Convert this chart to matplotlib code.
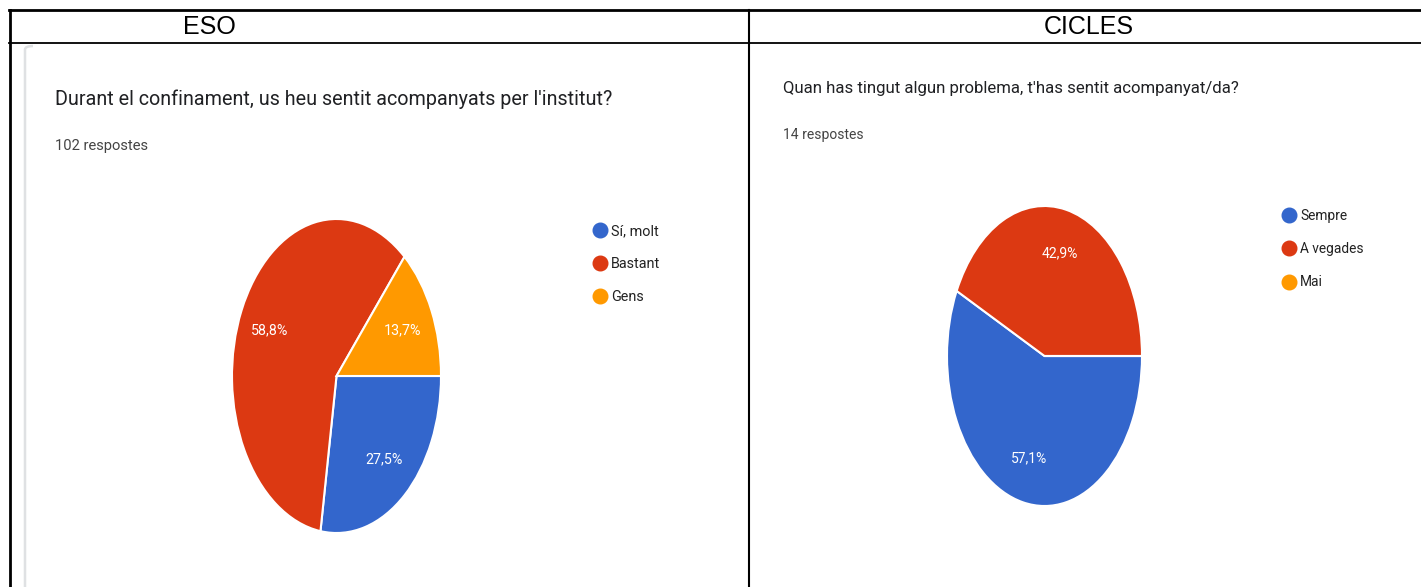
import matplotlib.pyplot as plt
from matplotlib.lines import Line2D
from matplotlib.patches import FancyBboxPatch, Rectangle

W, H = 1421, 587

# ESO data (counts out of 102 answers)
eso_labels = ['Sí, molt', 'Bastant', 'Gens']
eso_counts = [28, 60, 14]
eso_title = "Durant el confinament, us heu sentit acompanyats per l'institut?"
eso_sub = '102 respostes'

# CICLES data (counts out of 14 answers)
cic_labels = ['Sempre', 'A vegades', 'Mai']
cic_counts = [8, 6, 0]
cic_title = "Quan has tingut algun problema, t'has sentit acompanyat/da?"
cic_sub = '14 respostes'

colors = ['#3366cc', '#dc3912', '#ff9900']
gfont = ['Roboto', 'DejaVu Sans']


def fx(px):
    return px / W


def fy(py):
    return 1 - py / H


def pct(p):
    if p <= 0:
        return ''
    return f'{p:.1f}%'.replace('.', ',')


def pie_panel(fig, box, counts, labels, title, sub, tpos, spos, lpos, sizes):
    ts, ss, ls, ps = sizes
    x0, y0, x1, y1 = box
    ax = fig.add_axes([fx(x0), fy(y1), (x1 - x0) / W, (y1 - y0) / H])
    ax.pie(counts, colors=colors, startangle=0, counterclock=False,
           autopct=pct, pctdistance=0.7,
           wedgeprops=dict(edgecolor='white', linewidth=1.5),
           textprops=dict(color='white', fontsize=ps, family=gfont))
    ax.set_aspect('auto')
    ax.set_xlim(-1, 1)
    ax.set_ylim(-1, 1)
    ax.axis('off')

    fig.text(fx(tpos[0]), fy(tpos[1]), title, fontsize=ts, family=gfont,
             color='#202124', va='center')
    fig.text(fx(spos[0]), fy(spos[1]), sub, fontsize=ss, family=gfont,
             color='#444444', va='center')

    handles = [Line2D([], [], linestyle='none', marker='o', markersize=10.5,
                      markerfacecolor=c, markeredgecolor=c) for c in colors]
    fig.legend(handles, labels, loc='upper left',
               bbox_to_anchor=(fx(lpos[0]), fy(lpos[1])),
               frameon=False, borderpad=0, borderaxespad=0,
               handlelength=0.9, handletextpad=0.35,
               labelspacing=22.0 / (ls * 100 / 72) - 0.2,
               prop=dict(size=ls, family=gfont), labelcolor='#222222')


fig = plt.figure(figsize=(W / 100, H / 100), dpi=100)
fig.patch.set_facecolor('white')

# table grid
lk = dict(color='black', transform=fig.transFigure)
fig.add_artist(Line2D([fx(9), fx(1421)], [fy(10), fy(10)], lw=2, **lk))
fig.add_artist(Line2D([fx(9), fx(1421)], [fy(42.5), fy(42.5)], lw=1.3, **lk))
fig.add_artist(Line2D([fx(9.5), fx(9.5)], [fy(10), fy(587)], lw=2, **lk))
fig.add_artist(Line2D([fx(748.5), fx(748.5)], [fy(10), fy(587)], lw=1.5, **lk))

fig.text(fx(209), fy(27), 'ESO', fontsize=18, family='Liberation Sans',
         ha='center', va='center')
fig.text(fx(1089), fy(27), 'CICLES', fontsize=18, family='Liberation Sans',
         ha='center', va='center')

# light card border on the left panel (only its left edge is visible)
card = FancyBboxPatch((fx(25), fy(640)), fx(700), fy(46) - fy(640),
                      boxstyle='round,pad=0,rounding_size=0.006',
                      transform=fig.transFigure, facecolor='none',
                      edgecolor='#dfe1e3', lw=1.8)
fig.add_artist(card)
clip = Rectangle((fx(15), fy(587)), fx(18), fy(44) - fy(587),
                 transform=fig.transFigure)
card.set_clip_path(clip)

pie_panel(fig, (232, 219, 441, 533), eso_counts, eso_labels, eso_title, eso_sub,
          (55, 99), (55, 146), (593, 224), (14.2, 10.6, 10.4, 10.3))
pie_panel(fig, (947, 206, 1142, 506), cic_counts, cic_labels, cic_title, cic_sub,
          (783, 88), (783, 135), (1283, 209), (12.1, 10.0, 9.9, 10.0))

fig.savefig('out.png', dpi=100)
